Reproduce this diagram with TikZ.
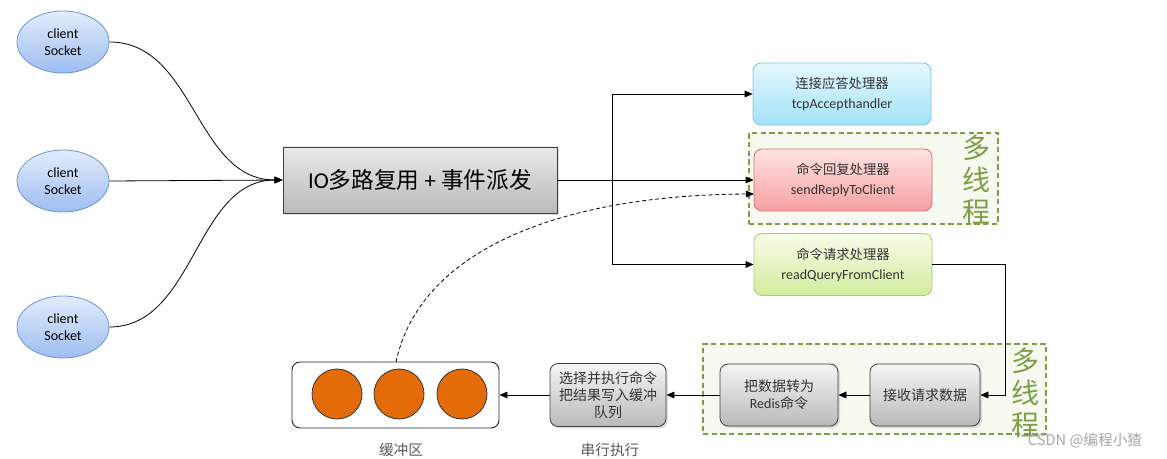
\documentclass[tikz,border=0pt]{standalone}
\usepackage{fontspec}
\setmainfont{Carlito}
\newfontfamily\cjk{Noto Sans CJK SC}
\usetikzlibrary{arrows.meta,shadows,shapes.geometric}
\definecolor{ellfill1}{HTML}{E3ECFC}
\definecolor{ellfill2}{HTML}{9DBDF1}
\definecolor{elldraw}{HTML}{6A95D4}
\definecolor{cy1}{HTML}{E4F8FE}
\definecolor{cy2}{HTML}{A3E2F7}
\definecolor{cyd}{HTML}{7CC6DC}
\definecolor{rd1}{HTML}{FFE3E3}
\definecolor{rd2}{HTML}{F5A0A0}
\definecolor{rdd}{HTML}{D66E6E}
\definecolor{gn1}{HTML}{F7FCE8}
\definecolor{gn2}{HTML}{D3EC9E}
\definecolor{gnd}{HTML}{A9CC6E}
\definecolor{gy1}{HTML}{F5F5F5}
\definecolor{gy2}{HTML}{B9B9B9}
\definecolor{gyd}{HTML}{3F3F3F}
\definecolor{mt}{HTML}{7E9E45}
\definecolor{mtfill}{HTML}{F6F9F0}
\definecolor{orng}{HTML}{E36C09}
\definecolor{txt}{HTML}{333333}
\tikzset{
  x=0.75pt, y=-0.75pt,
  arr/.style={-{Triangle[length=6pt,width=5pt]}, line width=0.6pt},
  client/.style={ellipse, minimum width=69pt, minimum height=46.5pt, inner sep=0pt,
    top color=ellfill1, bottom color=ellfill2, draw=elldraw, line width=0.6pt,
    align=center, font=\fontsize{10.5}{13}\selectfont, text=black},
  handler/.style={rounded corners=6pt, minimum width=133.5pt, minimum height=46.5pt,
    inner sep=0pt, align=center, line width=0.6pt, text=txt,
    font=\fontsize{10.5}{15}\selectfont},
  graybox/.style={rounded corners=6pt, inner sep=0pt, align=center, line width=0.6pt,
    top color=gy1, bottom color=gy2, draw=gyd, text=txt,
    drop shadow={opacity=0.25, shadow xshift=1.5pt, shadow yshift=-1.5pt},
    font=\fontsize{10.5}{13}\selectfont},
  mtbox/.style={draw=mt, dashed, line width=1.3pt, fill=mtfill, inner sep=0pt,
    dash pattern=on 4pt off 2.5pt},
  mtlabel/.style={text=mt, font=\cjk\fontsize{21}{24}\selectfont, align=center, inner sep=0pt},
  orb/.style={circle, minimum size=37.5pt, inner sep=0pt, fill=orng, draw=black!80, line width=0.6pt},
  caption/.style={text=black!65, font=\cjk\fontsize{11}{13}\selectfont, inner sep=0pt}
}
\begin{document}
\begin{tikzpicture}
\useasboundingbox (0,0) rectangle (1167,459);
% clients
\node[client] (c1) at (63,42) {client\\Socket};
\node[client] (c2) at (63,181) {client\\Socket};
\node[client] (c3) at (63,327) {client\\Socket};
% IO box
\node[draw=gyd, top color=gy1!95!black, bottom color=gy2, minimum width=205.5pt, minimum height=49.5pt,
  inner sep=0pt, line width=0.7pt, drop shadow={opacity=0.25, shadow xshift=1.5pt, shadow yshift=-1.5pt},
  font=\fontsize{17}{20}\selectfont] (io) at (420,180) {IO{\cjk 多路复用} + {\cjk 事件派发}};
\draw[arr] (c1.east) .. controls (195,42) and (195,180) .. (io.west);
\draw[arr] (c2.east) -- (io.west);
\draw[arr] (c3.east) .. controls (195,327) and (195,180) .. (io.west);
% multithread box 1
\node[mtbox, minimum width=186.75pt, minimum height=68.25pt] (mt1) at (873.5,178.5) {};
\node[mtlabel] (mt1l) at (976,180) {多\\线\\程};
% handlers
\node[handler, top color=cy1, bottom color=cy2, draw=cyd] (tcp) at (842,94)
  {{\cjk\fontsize{10}{15}\selectfont 连接应答处理器}\\tcpAccepthandler};
\node[handler, top color=rd1, bottom color=rd2, draw=rdd] (red) at (843,180)
  {{\cjk\fontsize{10}{15}\selectfont 命令回复处理器}\\sendReplyToClient};
\node[handler, top color=gn1, bottom color=gn2, draw=gnd] (grn) at (843,264.5)
  {{\cjk\fontsize{10}{15}\selectfont 命令请求处理器}\\readQueryFromClient};
% dispatch lines
\coordinate (j1) at (612,94);
\coordinate (j2) at (612,264.5);
\draw[line width=0.6pt] (j1) -- (j2);
\draw[arr] (io.east) -- (red.west);
\draw[arr] (j1) -- (tcp.west);
\draw[arr] (j2) -- (grn.west);
% multithread box 2
\node[mtbox, minimum width=257.25pt, minimum height=67.5pt] (mt2) at (874.5,389) {};
\node[mtlabel] (mt2l) at (1025,393) {多\\线\\程};
% lower boxes
\node[graybox, minimum width=82.5pt, minimum height=46.5pt] (recv) at (925,395) {\cjk 接收请求数据};
\node[graybox, minimum width=88.5pt, minimum height=46.5pt] (conv) at (779,395) {{\cjk 把数据转为}\\Redis{\cjk 命令}};
\node[graybox, minimum width=87pt, minimum height=47.25pt, font=\cjk\fontsize{10.5}{12.75}\selectfont] (exec) at (608,395)
  {选择并执行命令\\把结果写入缓冲\\队列};
\node[draw=black!85, rounded corners=6pt, fill=white, minimum width=155.25pt, minimum height=49.5pt,
  line width=0.7pt, inner sep=0pt] (buf) at (395.5,395) {};
\node[orb] (o1) at (337,394) {};
\node[orb] (o2) at (399,394) {};
\node[orb] (o3) at (462,394) {};
% lower connectors
\coordinate (k1) at (1005,264.5);
\coordinate (k2) at (1005,395);
\draw[arr] (grn.east) -- (k1) -- (k2) -- (recv.east);
\draw[arr] (recv.west) -- (conv.east);
\draw[arr] (conv.west) -- (exec.east);
\draw[arr] (exec.west) -- (buf.east);
% dashed feedback
\coordinate (rdin) at (754,194);
\draw[arr, dashed, dash pattern=on 3pt off 2pt] (396,362) .. controls (420,250) and (560,195) .. (rdin);
% captions
\node[caption] (cap1) at (401,450) {缓冲区};
\node[caption] (cap2) at (610,450) {串行执行};
\node[text=black!35, font=\cjk\fontsize{11}{13}\selectfont, inner sep=0pt] (wm) at (1085,441) {CSDN @编程小猹};
\end{tikzpicture}
\end{document}
